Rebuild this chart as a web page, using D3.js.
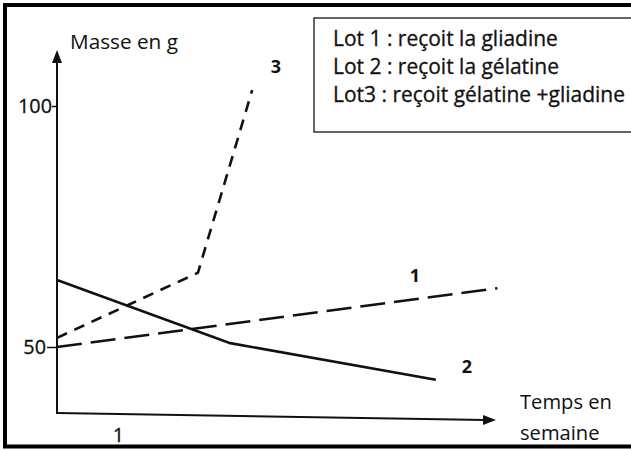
<!DOCTYPE html>
<html><head><meta charset="utf-8">
<script src="https://cdn.jsdelivr.net/npm/d3@7"></script>
<style>body{margin:0;background:#fff}svg{display:block}text{font-family:"Open Sans",sans-serif;fill:#111}</style>
</head><body>
<script>
const xTickValues = [1];
const xTickLabels = ["1"];
const yTickValues = [50, 100];
const lotNames = ["1", "2", "3"];
const legendLines = ["Lot 1 : reçoit la gliadine", "Lot 2 : reçoit la gélatine", "Lot3 : reçoit gélatine +gliadine"];
const lot1Weeks = [0, 7.22];
const lot1Mass = [50, 62.2];
const lot2Weeks = [0, 2.84, 6.21];
const lot2Mass = [63.9, 50.8, 43.2];
const lot3Weeks = [0, 2.31, 3.2];
const lot3Mass = [51.9, 65.4, 103.3];

const W = 631, H = 450;
const FONT = "'Open Sans', sans-serif";
const svg = d3.select("body").append("svg").attr("width", W).attr("height", H);
const x = d3.scaleLinear().domain([0, 1]).range([57, 118]);
const y = d3.scaleLinear().domain([50, 100]).range([347, 106]);

function fitText(sel, w) {
  const cur = sel.node().getComputedTextLength();
  const fs = parseFloat(sel.attr("font-size"));
  sel.attr("font-size", (fs * w / cur).toFixed(2));
  return sel.attr("font-size");
}

// outer frame (left, top, bottom)
svg.append("path").attr("d", "M640,5 H5 V446.5 H640").attr("fill", "none").attr("stroke", "#000").attr("stroke-width", 4);

// legend box
svg.append("rect").attr("x", 314).attr("y", 18).attr("width", 340).attr("height", 114)
  .attr("fill", "none").attr("stroke", "#333").attr("stroke-width", 1.5);
const legTexts = legendLines.map((t, i) =>
  svg.append("text").attr("x", 333).attr("y", 46 + i * 28).attr("font-size", 18)
    .attr("stroke", "#111").attr("stroke-width", 0.3).text(t));
const lfs = fitText(legTexts[2], 292);
legTexts.forEach(t => t.attr("font-size", lfs));

// axes
const axisG = svg.append("g").attr("stroke", "#111").attr("fill", "none").attr("stroke-width", 2);
axisG.append("line").attr("x1", x(0)).attr("y1", 414).attr("x2", x(0)).attr("y2", 58);
axisG.append("path").attr("d", `M${x(0)},50 L${x(0)-5},63 L${x(0)+5},63 Z`).attr("fill", "#111").attr("stroke", "none");
axisG.append("path").attr("d", `M${x(0)},413 L486,420`);
axisG.append("path").attr("d", "M496,420 L483,415 L483,425 Z").attr("fill", "#111").attr("stroke", "none");

const yAxis = d3.axisLeft(y).tickValues(yTickValues).tickSize(5).tickPadding(0).tickFormat(d3.format("d"));
const ya = svg.append("g").attr("transform", `translate(${x(0)},0)`).call(yAxis);
ya.select(".domain").remove();
ya.selectAll("line").attr("stroke", "#111").attr("stroke-width", 1.5);
ya.selectAll("text").attr("font-size", 19.5).attr("font-family", FONT).attr("fill", "#111")
  .attr("stroke", "#111").attr("stroke-width", 0.3);
ya.selectAll(".tick").filter(d => d === 50).select("line").attr("x2", -10);
ya.selectAll(".tick").filter(d => d === 50).select("text").attr("x", -11);
const yl = ya.selectAll(".tick").filter(d => d === 100).select("text");
const yfs = fitText(yl, 34);
ya.selectAll("text").attr("font-size", yfs);

const xAxis = d3.axisBottom(x).tickValues(xTickValues).tickSize(0).tickPadding(4).tickFormat((d, i) => xTickLabels[i]);
const xa = svg.append("g").attr("transform", "translate(0,424)").call(xAxis);
xa.select(".domain").remove();
xa.selectAll("text").attr("font-size", yfs).attr("font-family", FONT).attr("fill", "#111")
  .attr("stroke", "#111").attr("stroke-width", 0.3);

const t1 = svg.append("text").attr("x", 70).attr("y", 49).attr("font-size", 18).text("Masse en g");
fitText(t1, 108);
const t2 = svg.append("text").attr("x", 520).attr("y", 409).attr("font-size", 18).text("Temps en");
fitText(t2, 92);
const t3 = svg.append("text").attr("x", 520).attr("y", 440).attr("font-size", t2.attr("font-size")).text("semaine");

const line = d3.line().x(d => x(d[0])).y(d => y(d[1]));
const series = [
  {w: lot1Weeks, m: lot1Mass, dash: "25,9"},
  {w: lot2Weeks, m: lot2Mass, dash: null},
  {w: lot3Weeks, m: lot3Mass, dash: "11,8"}
];
series.forEach(s => {
  svg.append("path").datum(s.w.map((w, i) => [w, s.m[i]]))
    .attr("d", line).attr("fill", "none").attr("stroke", "#111").attr("stroke-width", 2.6)
    .attr("stroke-dasharray", s.dash);
});

// series labels
const labelPos = [[415, 282], [467, 373], [276, 73]];
lotNames.forEach((n, i) => {
  svg.append("text").attr("x", labelPos[i][0]).attr("y", labelPos[i][1]).attr("text-anchor", "middle")
    .attr("font-size", 18).attr("font-weight", "bold").text(n);
});
</script>
</body></html>
